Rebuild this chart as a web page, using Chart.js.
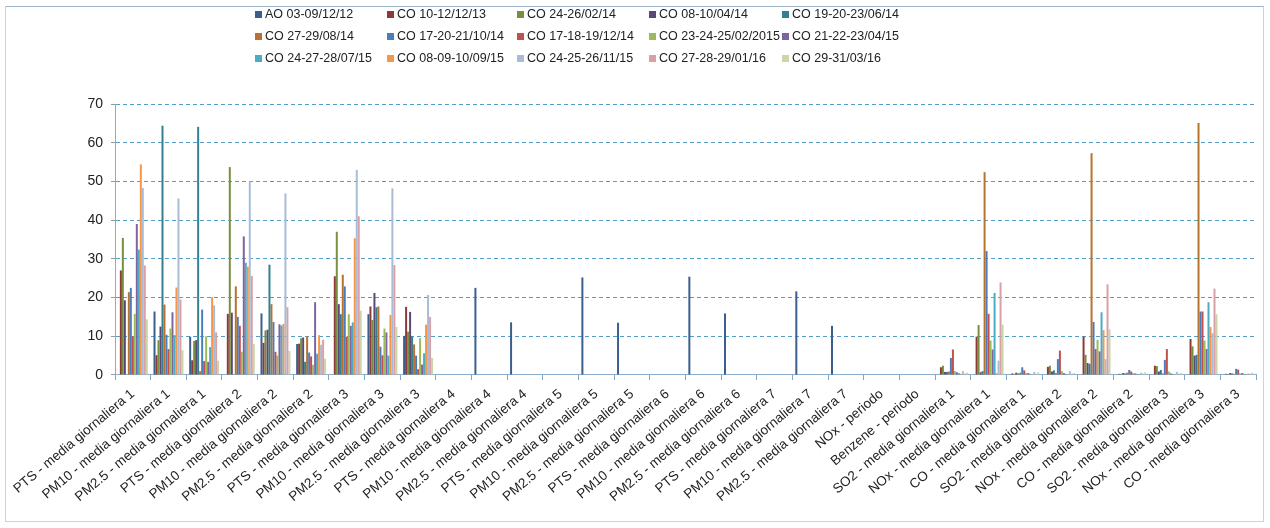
<!DOCTYPE html>
<html>
<head>
<meta charset="utf-8">
<script src="https://cdn.jsdelivr.net/npm/chart.js@4.4.0/dist/chart.umd.min.js"></script>
<style>
  html, body { margin: 0; padding: 0; background: #fff; }
  #wrap { position: relative; width: 1270px; height: 528px; }
  #frame { position: absolute; left: 5px; top: 6px; width: 1259px; height: 516px; border: 1px solid #ecc9ba; border-top-color: #9fb3c8; box-sizing: border-box; }
  #legend { position: absolute; left: 255px; top: 6px; display: grid; grid-template-columns: 132px 130px 132px 133px 150px; row-gap: 6px;
            font-family: "Liberation Sans", Arial, sans-serif; font-size: 12.5px; color: #222; }
  #legend div { display: flex; align-items: center; height: 16px; white-space: nowrap; }
  #legend span.box { display: inline-block; width: 7px; height: 7px; margin-right: 3px; }
  canvas { position: absolute; left: 0; top: 0; }
</style>
</head>
<body>
<div id="wrap">
  <div id="frame"></div>
  <canvas id="chart" width="1270" height="528"></canvas>
  <div id="legend"></div>
</div>
<script>
const categories = [
  'PTS - media giornaliera 1', 'PM10 - media giornaliera 1', 'PM2.5 - media giornaliera 1',
  'PTS - media giornaliera 2', 'PM10 - media giornaliera 2', 'PM2.5 - media giornaliera 2',
  'PTS - media giornaliera 3', 'PM10 - media giornaliera 3', 'PM2.5 - media giornaliera 3',
  'PTS - media giornaliera 4', 'PM10 - media giornaliera 4', 'PM2.5 - media giornaliera 4',
  'PTS - media giornaliera 5', 'PM10 - media giornaliera 5', 'PM2.5 - media giornaliera 5',
  'PTS - media giornaliera 6', 'PM10 - media giornaliera 6', 'PM2.5 - media giornaliera 6',
  'PTS - media giornaliera 7', 'PM10 - media giornaliera 7', 'PM2.5 - media giornaliera 7',
  'NOx - periodo', 'Benzene - periodo',
  'SO2 - media giornaliera 1', 'NOx - media giornaliera 1', 'CO - media giornaliera 1',
  'SO2 - media giornaliera 2', 'NOx - media giornaliera 2', 'CO - media giornaliera 2',
  'SO2 - media giornaliera 3', 'NOx - media giornaliera 3', 'CO - media giornaliera 3'
];

const seriesNames = [
  'AO 03-09/12/12', 'CO 10-12/12/13', 'CO 24-26/02/14', 'CO 08-10/04/14', 'CO 19-20-23/06/14',
  'CO 27-29/08/14', 'CO 17-20-21/10/14', 'CO 17-18-19/12/14', 'CO 23-24-25/02/2015', 'CO 21-22-23/04/15',
  'CO 24-27-28/07/15', 'CO 08-09-10/09/15', 'CO 24-25-26/11/15', 'CO 27-28-29/01/16', 'CO 29-31/03/16'
];

// one array per campaign, 32 values each (same order as categories)
const ao_031212 = [0, 16.4, 9.9, 0, 15.9, 8.0, 0, 15.7, 10.1, 0, 22.5, 13.6, 0, 25.2, 13.5, 0, 25.4, 15.9, 0, 21.6, 12.7, 0, 0, 0, 0, 0, 0, 0, 0, 0, 0, 0];
const co_101213 = [27.0, 5.1, 3.8, 15.8, 8.3, 8.1, 25.5, 17.7, 17.6, 0, 0, 0, 0, 0, 0, 0, 0, 0, 0, 0, 0, 0, 0, 2.0, 9.9, 0.4, 2.1, 9.9, 0.3, 2.4, 9.3, 0.3];
const co_240214 = [35.4, 9.0, 8.8, 53.7, 11.5, 9.5, 37.0, 14.2, 11.2, 0, 0, 0, 0, 0, 0, 0, 0, 0, 0, 0, 0, 0, 0, 2.4, 12.9, 0.3, 2.4, 5.2, 0.3, 2.3, 7.4, 0.2];
const co_080414 = [19.3, 12.5, 9.0, 16.1, 11.7, 9.7, 18.3, 21.2, 16.3, 0, 0, 0, 0, 0, 0, 0, 0, 0, 0, 0, 0, 0, 0, 0.8, 0.7, 0.6, 0.9, 3.1, 0.5, 0.9, 5.0, 0.5];
const co_190614 = [0, 64.4, 64.1, 0, 28.5, 3.4, 15.7, 17.5, 10.0, 0, 0, 0, 0, 0, 0, 0, 0, 0, 0, 0, 0, 0, 0, 0.8, 1.0, 0.4, 1.2, 2.9, 0.4, 1.3, 5.2, 0.4];
const co_270814 = [21.4, 18.2, 1.0, 22.9, 18.3, 9.9, 25.9, 17.7, 7.9, 0, 0, 0, 0, 0, 0, 0, 0, 0, 0, 0, 0, 0, 0, 0.9, 52.4, 0.6, 0.5, 57.3, 0.6, 0.4, 65.1, 0.3];
const co_171014 = [22.5, 10.4, 16.9, 15.0, 13.7, 5.8, 22.9, 7.3, 5.0, 0, 0, 0, 0, 0, 0, 0, 0, 0, 0, 0, 0, 0, 0, 4.4, 32.0, 2.0, 4.1, 13.7, 1.3, 3.9, 16.4, 1.6];
const co_171214 = [9.9, 6.7, 3.6, 12.7, 6.0, 4.8, 9.9, 5.1, 1.5, 0, 0, 0, 0, 0, 0, 0, 0, 0, 0, 0, 0, 0, 0, 6.6, 15.8, 1.2, 6.3, 6.7, 0.9, 6.7, 16.4, 1.4];
const co_230215 = [15.8, 12.0, 10.0, 6.0, 5.0, 2.6, 15.7, 12.0, 9.5, 0, 0, 0, 0, 0, 0, 0, 0, 0, 0, 0, 0, 0, 0, 1.0, 8.9, 0.5, 1.0, 9.1, 0.5, 0.9, 8.9, 0.4];
const co_210415 = [39.0, 16.2, 3.4, 35.8, 13.1, 18.8, 12.7, 11.0, 2.7, 0, 0, 0, 0, 0, 0, 0, 0, 0, 0, 0, 0, 0, 0, 0.7, 6.6, 0.5, 0.5, 6.1, 0.4, 0.4, 6.7, 0.5];
const co_240715 = [32.4, 10.3, 7.2, 29.0, 12.8, 5.5, 13.6, 5.0, 5.6, 0, 0, 0, 0, 0, 0, 0, 0, 0, 0, 0, 0, 0, 0, 0.5, 21.2, 0.3, 0.3, 16.2, 0.3, 0.3, 18.8, 0.3];
const co_080915 = [54.4, 22.6, 20.1, 28.0, 13.2, 10.3, 35.3, 15.5, 13.0, 0, 0, 0, 0, 0, 0, 0, 0, 0, 0, 0, 0, 0, 0, 0.3, 0.5, 0.2, 0.2, 11.6, 0.2, 0.2, 12.4, 0.2];
const co_241115 = [48.3, 45.6, 18.0, 50.0, 46.9, 7.8, 53.0, 48.2, 20.7, 0, 0, 0, 0, 0, 0, 0, 0, 0, 0, 0, 0, 0, 0, 1.0, 3.7, 0.8, 1.0, 4.1, 0.6, 0.8, 10.8, 0.4];
const co_270116 = [28.3, 19.5, 11.0, 25.6, 17.5, 9.1, 41.0, 28.4, 15.0, 0, 0, 0, 0, 0, 0, 0, 0, 0, 0, 0, 0, 0, 0, 0.3, 23.9, 0.3, 0.3, 23.4, 0.3, 0.3, 22.3, 0.3];
const co_290316 = [14.4, 6.4, 3.7, 8.0, 6.2, 4.2, 16.6, 12.4, 4.4, 0, 0, 0, 0, 0, 0, 0, 0, 0, 0, 0, 0, 0, 0, 0.6, 13.0, 0.7, 0.5, 11.8, 0.7, 0.5, 15.7, 0.6];

const yTicks = [0, 10, 20, 30, 40, 50, 60, 70];

const seriesValues = [ao_031212, co_101213, co_240214, co_080414, co_190614, co_270814, co_171014,
  co_171214, co_230215, co_210415, co_240715, co_080915, co_241115, co_270116, co_290316];

const palette = ['#3a5f8c', '#8c3a38', '#76903f', '#5a4878', '#34808f', '#b8722e', '#4a7ebb',
  '#c0504d', '#9bbb59', '#8064a2', '#4bacc6', '#f79646', '#a8bcd8', '#d9a0a8', '#c8d6a8'];

const FONT = '"Liberation Sans", Arial, sans-serif';

// legend as html grid (5 columns like the original)
const legendEl = document.getElementById('legend');
seriesNames.forEach((name, i) => {
  const d = document.createElement('div');
  d.innerHTML = `<span class="box" style="background:${palette[i]}"></span>${name}`;
  legendEl.appendChild(d);
});

new Chart(document.getElementById('chart'), {
  type: 'bar',
  data: {
    labels: categories,
    datasets: seriesNames.map((name, i) => ({
      label: name,
      data: seriesValues[i],
      backgroundColor: palette[i],
      borderWidth: 0,
      categoryPercentage: 0.84,
      barPercentage: 1.0
    }))
  },
  options: {
    responsive: false,
    animation: false,
    layout: { padding: { top: 104, left: 4, right: 14, bottom: 17 } },
    plugins: { legend: { display: false }, tooltip: { enabled: false } },
    scales: {
      x: {
        grid: { drawOnChartArea: false, drawTicks: true, tickLength: 5, color: '#7fa6c8', offset: true },
        border: { display: true, color: '#8aaecb', width: 1 },
        ticks: { color: '#222', font: { family: FONT, size: 13.5 }, minRotation: 40, maxRotation: 40, autoSkip: false, padding: 6 }
      },
      y: {
        min: 0, max: 70,
        afterBuildTicks: axis => { axis.ticks = yTicks.map(v => ({ value: v })); },
        afterFit: axis => { axis.width = 111; },
        grid: { color: ctx => ctx.tick && ctx.tick.value === 0 ? 'rgba(0,0,0,0)' : '#4f9fc9', lineWidth: 1, tickLength: 4, tickColor: '#999' },
        border: { display: true, color: '#a6a6a6', width: 1, dash: [4, 3] },
        ticks: { color: '#222', font: { family: FONT, size: 14 }, padding: 8 }
      }
    }
  }
});
</script>
</body>
</html>
